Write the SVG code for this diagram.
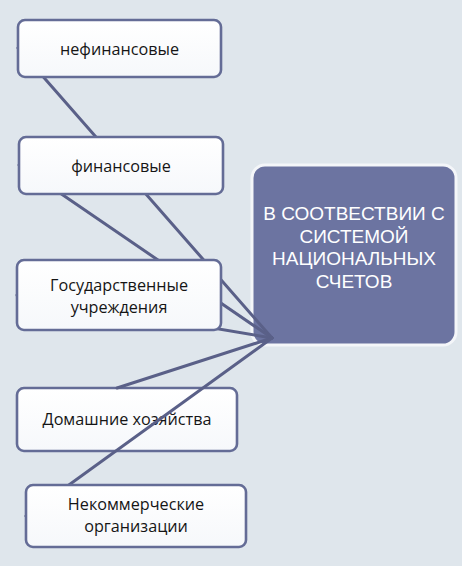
<svg xmlns="http://www.w3.org/2000/svg" width="462" height="566" viewBox="0 0 462 566">
<defs>
<linearGradient id="boxfill" x1="0" y1="0" x2="0" y2="1">
<stop offset="0" stop-color="#ffffff"/>
<stop offset="1" stop-color="#f6f8fb"/>
</linearGradient>
</defs>
<style>
.box{fill:url(#boxfill);stroke:#646c96;stroke-width:2.6}
.lbl{font-family:"Open Sans","Noto Sans",sans-serif;font-size:16.2px;fill:#151515;text-anchor:middle}
.big{fill:#6c74a1;stroke:#f4f6f9;stroke-width:3}
.bigtxt{font-family:"Liberation Sans",Arial,sans-serif;font-size:19px;fill:#ffffff;text-anchor:middle}
.conn line{stroke:#5a6088;stroke-width:3;stroke-linecap:round}
</style>
<rect width="462" height="566" fill="#dfe6ec"/>
<g id="node-households">
<rect class="box" x="17" y="388" width="220" height="63" rx="7"/>
<text class="lbl" x="127" y="425">Домашние хозяйства</text>
</g>
<g id="node-sna">
<rect class="big" x="252" y="165" width="204" height="180" rx="13"/>
<text class="bigtxt" x="354" y="220">В СООТВЕСТВИИ С</text>
<text class="bigtxt" x="354" y="242.5">СИСТЕМОЙ</text>
<text class="bigtxt" x="354" y="265">НАЦИОНАЛЬНЫХ</text>
<text class="bigtxt" x="354" y="287.5">СЧЕТОВ</text>
</g>
<g id="connectors" class="conn">
<line x1="18" y1="48" x2="272" y2="338"/>
<line x1="19" y1="165" x2="272" y2="338"/>
<line x1="17" y1="295" x2="272" y2="338"/>
<line x1="117" y1="388" x2="272" y2="338"/>
<line x1="26" y1="516" x2="272" y2="338"/>
</g>
<g id="node-nonfinancial">
<rect class="box" x="18" y="20" width="203" height="57" rx="7"/>
<text class="lbl" x="119.5" y="55">нефинансовые</text>
</g>
<g id="node-financial">
<rect class="box" x="19" y="137" width="204" height="57" rx="7"/>
<text class="lbl" x="121" y="172">финансовые</text>
</g>
<g id="node-government">
<rect class="box" x="17" y="260" width="204" height="70" rx="7"/>
<text class="lbl" x="119" y="291">Государственные</text>
<text class="lbl" x="119" y="313">учреждения</text>
</g>
<g id="node-nonprofit">
<rect class="box" x="26" y="485" width="220" height="62" rx="7"/>
<text class="lbl" x="136" y="510">Некоммерческие</text>
<text class="lbl" x="136" y="532">организации</text>
</g>
</svg>
